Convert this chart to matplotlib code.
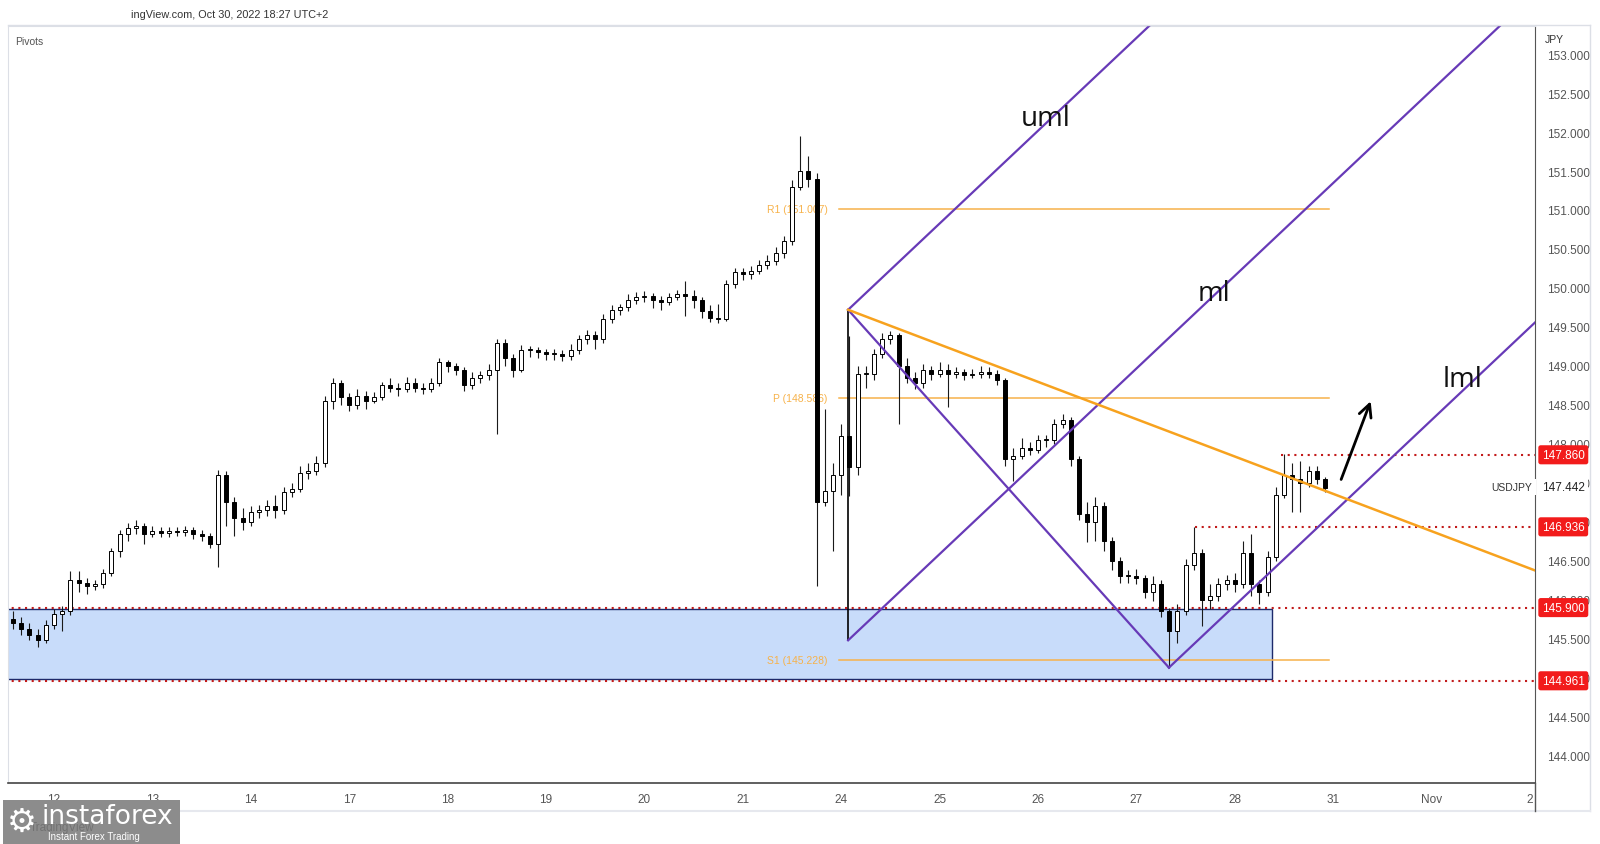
"""
USDJPY 2h candles with pivots, pitchfork and key levels (TradingView style)
"""
import numpy as np
import matplotlib
matplotlib.use('Agg')
import matplotlib.pyplot as plt
from matplotlib.patches import Rectangle
from matplotlib.lines import Line2D
import matplotlib.transforms as mtransforms

# x axis is in trading days: 0 = Oct 12, 1 = Oct 13, ... (weekends skipped)
day_labels = ['12', '13', '14', '17', '18', '19', '20', '21', '24', '25', '26',
              '27', '28', '31', 'Nov', '2']
first_t = -5 / 12.0
bar_step = 1 / 12.0
first_open = 145.75

closes = [145.70, 145.62, 145.55, 145.48, 145.68, 145.82, 145.85, 146.25, 146.22, 146.18,
          146.20, 146.35, 146.62, 146.85, 146.92, 146.95, 146.85, 146.88, 146.86, 146.88,
          146.87, 146.90, 146.85, 146.82, 146.72, 147.60, 147.25, 147.05, 147.00, 147.12,
          147.15, 147.20, 147.15, 147.38, 147.42, 147.62, 147.65, 147.75, 148.55, 148.78,
          148.60, 148.50, 148.62, 148.55, 148.60, 148.75, 148.72, 148.70, 148.78, 148.72,
          148.70, 148.78, 149.05, 149.00, 148.95, 148.75, 148.85, 148.88, 148.95, 149.30,
          149.10, 148.95, 149.20, 149.20, 149.18, 149.15, 149.15, 149.13, 149.20, 149.35,
          149.40, 149.35, 149.60, 149.72, 149.75, 149.85, 149.88, 149.90, 149.85, 149.82,
          149.88, 149.92, 149.90, 149.85, 149.70, 149.62, 149.60, 150.05, 150.20, 150.18,
          150.22, 150.30, 150.35, 150.45, 150.60, 151.30, 151.50, 151.40, 147.26, 147.40,
          147.60, 148.10, 147.70, 148.90, 148.90, 149.15, 149.35, 149.40, 149.00, 148.85,
          148.78, 148.95, 148.90, 148.95, 148.90, 148.92, 148.88, 148.90, 148.92, 148.90,
          148.82, 147.80, 147.85, 147.95, 147.92, 148.05, 148.05, 148.25, 148.30, 147.80,
          147.10, 147.00, 147.20, 146.75, 146.50, 146.30, 146.30, 146.28, 146.10, 146.20,
          145.85, 145.60, 145.85, 146.45, 146.60, 146.00, 146.05, 146.20, 146.25, 146.20,
          146.60, 146.20, 146.10, 146.55, 147.35, 147.60, 147.55, 147.50, 147.65, 147.55,
          147.44]

highs = [145.85, 145.78, 145.70, 145.62, 145.74, 145.88, 145.92, 146.37, 146.37, 146.28,
         146.26, 146.40, 146.66, 146.90, 146.98, 147.02, 146.98, 146.95, 146.93, 146.94,
         146.93, 146.95, 146.93, 146.90, 146.86, 147.67, 147.65, 147.32, 147.18, 147.20,
         147.22, 147.28, 147.34, 147.45, 147.50, 147.72, 147.76, 147.85, 148.62, 148.85,
         148.82, 148.65, 148.70, 148.68, 148.66, 148.80, 148.84, 148.78, 148.86, 148.84,
         148.78, 148.84, 149.10, 149.08, 149.04, 148.98, 148.92, 148.94, 149.02, 149.34,
         149.35, 149.15, 149.27, 149.26, 149.24, 149.22, 149.22, 149.20, 149.28, 149.40,
         149.46, 149.45, 149.66, 149.78, 149.80, 149.92, 149.95, 149.96, 149.93, 149.90,
         149.94, 149.98, 150.09, 149.98, 149.88, 149.78, 149.80, 150.10, 150.26, 150.26,
         150.28, 150.36, 150.42, 150.52, 150.66, 151.38, 151.95, 151.69, 151.48, 148.45,
         147.75, 148.25, 149.38, 149.00, 149.00, 149.22, 149.42, 149.45, 149.42, 149.10,
         148.92, 149.02, 149.00, 149.05, 149.03, 148.98, 148.96, 148.96, 149.00, 148.98,
         148.95, 148.85, 147.95, 148.08, 148.02, 148.12, 148.12, 148.32, 148.38, 148.34,
         147.85, 147.25, 147.32, 147.25, 146.80, 146.55, 146.38, 146.40, 146.32, 146.30,
         146.25, 145.90, 145.95, 146.52, 146.94, 146.65, 146.20, 146.28, 146.32, 146.35,
         146.75, 146.85, 146.25, 146.62, 147.45, 147.87, 147.75, 147.78, 147.72, 147.72,
         147.58]

lows = [145.62, 145.55, 145.48, 145.40, 145.45, 145.62, 145.60, 145.80, 146.10, 146.08,
        146.12, 146.15, 146.30, 146.55, 146.75, 146.85, 146.72, 146.80, 146.80, 146.80,
        146.82, 146.82, 146.78, 146.76, 146.66, 146.42, 146.95, 146.82, 146.90, 146.95,
        147.05, 147.08, 147.05, 147.10, 147.32, 147.38, 147.55, 147.60, 147.70, 148.45,
        148.50, 148.42, 148.45, 148.45, 148.52, 148.56, 148.66, 148.62, 148.66, 148.66,
        148.64, 148.66, 148.74, 148.92, 148.88, 148.68, 148.70, 148.78, 148.82, 148.13,
        149.00, 148.86, 148.92, 149.12, 149.10, 149.08, 149.08, 149.06, 149.08, 149.15,
        149.28, 149.22, 149.30, 149.55, 149.65, 149.70, 149.80, 149.82, 149.74, 149.72,
        149.78, 149.84, 149.64, 149.74, 149.62, 149.56, 149.55, 149.58, 150.00, 150.10,
        150.12, 150.18, 150.24, 150.30, 150.38, 150.55, 151.25, 151.30, 146.18, 147.20,
        146.62, 147.35, 147.33, 147.60, 148.72, 148.82, 149.10, 149.28, 148.26, 148.78,
        148.70, 148.72, 148.82, 148.86, 148.47, 148.84, 148.82, 148.84, 148.85, 148.84,
        148.76, 147.72, 147.53, 147.80, 147.86, 147.88, 147.96, 148.00, 148.20, 147.72,
        147.02, 146.74, 146.76, 146.62, 146.38, 146.22, 146.22, 146.20, 146.02, 145.98,
        145.78, 145.13, 145.45, 145.80, 146.38, 145.67, 145.88, 145.98, 146.12, 146.10,
        146.15, 146.05, 145.95, 146.05, 146.50, 147.30, 147.13, 147.13, 147.45, 147.48,
        147.38]

# horizontal levels (red dotted + price tags), start of each line in trading days
levels = [147.860, 146.936, 145.900, 144.961]
level_starts = [12.47, 11.60, -0.5, -0.5]

# daily pivots
pivot_names = ['R1', 'P', 'S1']
pivot_values = [151.007, 148.586, 145.228]
pivot_span = (7.98, 12.96)

# demand zone
zone_low, zone_high = 144.99, 145.88
zone_span = (-0.5, 12.38)

# pitchfork anchors (t, price) and slope of its lines (price per day)
fork_a = (8.07, 149.72)
fork_b = (8.07, 145.48)
fork_c = (11.33, 145.13)
fork_slope = 1.19
trend_slope = -0.479

last_price = 147.442

PURPLE = '#673ab7'
ORANGE = '#f7a21e'
PIVOT_ORANGE = '#f7b24a'
DOT_RED = '#c21b1b'
TAG_RED = '#f21b1b'
TXT = '#555555'
AXFONT = ['Liberation Sans', 'DejaVu Sans']


def main():
    fig = plt.figure(figsize=(16, 8.45), dpi=100)
    ax = fig.add_axes([8 / 1600, 61 / 845, 1527 / 1600, 757 / 845])
    ax.set_xlim(-0.467, 15.05)
    ax.set_ylim(143.65, 153.36)

    c = np.array(closes)
    o = np.array([first_open] + closes[:-1])
    t = first_t + np.arange(len(c)) * bar_step
    up = c >= o

    # candles
    ax.vlines(t, lows, highs, color='#1a1a1a', lw=0.8, zorder=4)
    ax.bar(t, np.maximum(np.abs(c - o), 0.012), bottom=np.minimum(o, c), width=0.04,
           color=np.where(up, 'white', 'black'), edgecolor='black', linewidth=0.7, zorder=5)

    # demand zone
    ax.add_patch(Rectangle((zone_span[0], zone_low), zone_span[1] - zone_span[0],
                           zone_high - zone_low, facecolor='#c8dcfa', edgecolor='#1d2a6b',
                           linewidth=1.0, zorder=1))

    # levels
    for lvl, start in zip(levels, level_starts):
        ax.plot([start, 15.2], [lvl, lvl], color=DOT_RED, lw=1.5, ls=(0, (1, 2.2)), zorder=2)

    # pivots
    for name, val in zip(pivot_names, pivot_values):
        ax.plot(pivot_span, [val, val], color=PIVOT_ORANGE, lw=1.1, zorder=2)
        ax.text(pivot_span[0] - 0.12, val, f'{name} ({val:.3f})', ha='right', va='center',
                color=PIVOT_ORANGE, fontsize=7.5, family=AXFONT, zorder=3)

    # pitchfork
    ax.plot([fork_a[0], fork_b[0]], [fork_a[1], fork_b[1]], color='black', lw=1.2, zorder=6)
    ax.plot([fork_a[0], fork_c[0]], [fork_a[1], fork_c[1]], color=PURPLE, lw=1.6, zorder=6)
    for px, py in (fork_a, fork_b, fork_c):
        ax.plot([px, 16.0], [py, py + fork_slope * (16.0 - px)], color=PURPLE, lw=1.6, zorder=6)

    # falling trendline
    ax.plot([fork_a[0], 15.3], [fork_a[1], fork_a[1] + trend_slope * (15.3 - fork_a[0])],
            color=ORANGE, lw=1.8, zorder=6)

    # annotations
    for txt, tx, ty in (('uml', 10.08, 152.18), ('ml', 11.79, 149.94), ('lml', 14.31, 148.83)):
        ax.text(tx, ty, txt, ha='center', va='center', fontsize=20, color='#111',
                family=['Open Sans', 'DejaVu Sans'], zorder=7)
    ax.annotate('', xy=(13.39, 148.58), xytext=(13.07, 147.51),
                arrowprops=dict(arrowstyle='->,head_length=0.9,head_width=0.45',
                                color='black', lw=2.0), zorder=7)

    # axes look
    ax.yaxis.tick_right()
    yt = np.arange(144.0, 153.01, 0.5)
    ax.set_yticks(yt)
    ax.set_yticklabels([f'{v:.3f}' for v in yt], family=AXFONT)
    ax.set_xticks(range(len(day_labels)))
    ax.set_xticklabels(day_labels, family=AXFONT)
    ax.tick_params(axis='y', length=0, pad=9, labelsize=8.5, labelcolor=TXT)
    ax.tick_params(axis='x', length=0, pad=7, labelsize=8.5, labelcolor=TXT)
    ax.spines['top'].set_color('#dcdfe6')
    ax.spines['left'].set_color('#dcdfe6')
    ax.spines['right'].set_color('#555')
    ax.spines['bottom'].set_color('#444')
    ax.spines['bottom'].set_linewidth(1.2)

    # price tags on the right axis
    trans = mtransforms.blended_transform_factory(ax.transAxes, ax.transData)
    for lvl in levels:
        ax.text(1.0045, lvl, f'{lvl:.3f}', transform=trans, ha='left', va='center',
                color='white', fontsize=8.5, family=AXFONT, clip_on=False, zorder=10,
                bbox=dict(boxstyle='round,pad=0.3,rounding_size=0.2', fc=TAG_RED, ec='none'))
    ax.text(1.0045, last_price, f'{last_price:.3f}', transform=trans, ha='left', va='center',
            color='#222', fontsize=8.5, family=AXFONT, clip_on=False, zorder=10,
            bbox=dict(boxstyle='square,pad=0.3', fc='white', ec='none'))
    ax.text(0.985, last_price, 'USDJPY', transform=trans, ha='center', va='center',
            color='#333', fontsize=7.5, family=AXFONT, zorder=10,
            bbox=dict(boxstyle='square,pad=0.3', fc='white', ec='none'))

    # header, frame and watermark
    fig.text(1545 / 1600, 1 - 40 / 845, 'JPY', fontsize=7.5, color='#333', va='center',
             family=AXFONT, bbox=dict(boxstyle='square,pad=0.2', fc='white', ec='none'))
    fig.text(131 / 1600, 1 - 15 / 845, 'ingView.com, Oct 30, 2022 18:27 UTC+2',
             fontsize=7.8, color='#333', va='center', family=AXFONT)
    fig.text(15 / 1600, 1 - 42 / 845, 'Pivots', fontsize=7.5, color='#555', va='center',
             family=AXFONT)
    fig.add_artist(Line2D([8 / 1600, 1590 / 1600], [1 - 26 / 845, 1 - 26 / 845],
                          color='#dcdfe6', lw=1))
    fig.add_artist(Line2D([1590 / 1600, 1590 / 1600], [1 - 26 / 845, 1 - 812 / 845],
                          color='#dcdfe6', lw=1))
    fig.add_artist(Line2D([8 / 1600, 1590 / 1600], [1 - 812 / 845, 1 - 812 / 845],
                          color='#e6e8ee', lw=1.5))
    fig.add_artist(Line2D([1535 / 1600, 1535 / 1600], [1 - 784 / 845, 1 - 812 / 845],
                          color='#555', lw=1))

    fig.patches.append(Rectangle((3 / 1600, 0), 177 / 1600, 44 / 845, transform=fig.transFigure,
                                 facecolor='#8c8c8c', edgecolor='none', zorder=20))
    fig.text(30 / 1600, 1 - 828 / 845, 'TradingView', fontsize=8.5, color='#727272',
             va='center', family=AXFONT, zorder=21)
    fig.text(22 / 1600, 1 - 822 / 845, '\u2699', fontsize=24, color='white', ha='center',
             va='center', zorder=22)
    fig.text(42 / 1600, 1 - 817 / 845, 'instaforex', fontsize=19, color='white',
             va='center', zorder=22)
    fig.text(48 / 1600, 1 - 837 / 845, 'Instant Forex Trading', fontsize=7, color='white',
             va='center', family=AXFONT, zorder=22)

    fig.savefig('out.png', dpi=100, facecolor='white')


if __name__ == '__main__':
    main()
